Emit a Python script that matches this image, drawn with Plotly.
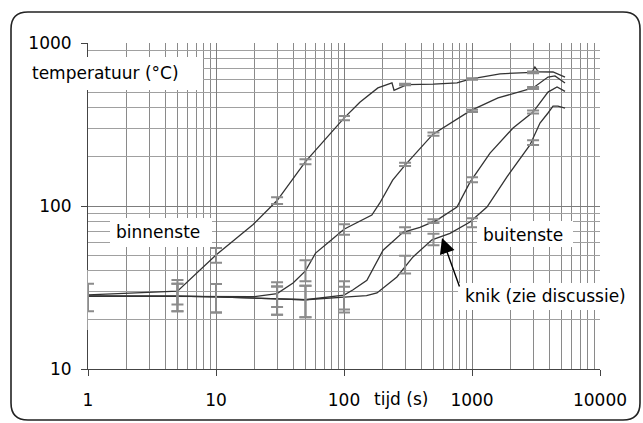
import plotly.graph_objects as go

# ---------------- data ----------------
tA = [1, 5, 10, 19.5, 30, 50, 100, 133, 184, 237, 246, 310, 500, 763, 965, 1655, 2942, 3100, 3300, 4295, 5330]
TA = [28.5, 30, 50, 77, 108, 187, 346, 433, 530, 569, 513, 556, 560, 569, 601, 647, 660, 712, 665, 664, 618]

tB = [1, 5, 10, 20, 30, 40, 50, 60, 80, 100, 165, 190, 240, 300, 496, 965, 1597, 2998, 3925, 4450, 5330]
TB = [28, 28, 27.8, 27.8, 29, 33.7, 40, 51.4, 62, 72, 88, 104, 144, 178, 276, 383, 460, 530, 618, 628, 569]

tC = [1, 5, 10, 20, 30, 50, 100, 117, 151, 202, 289, 392, 533, 763, 965, 1383, 2093, 3000, 3925, 4617, 5330]
TC = [28, 28, 27.7, 27.3, 26.8, 26.6, 28.4, 30.5, 35, 53.6, 69, 74, 82, 98.6, 140, 211, 301, 377, 500, 537, 505]

tD = [1, 5, 10, 20, 30, 50, 100, 150, 181, 259, 346, 487, 673, 965, 1309, 1655, 1876, 2838, 3398, 3925, 4295, 4697, 5330]
TD = [28, 28, 27.7, 27.3, 26.8, 26.6, 27.6, 28.2, 29.3, 36.7, 48.7, 62, 68, 79.7, 98.6, 130, 151, 237, 323, 372, 410, 410, 398]

# error bars (measurement points)
eA_t = [5, 10, 30, 50, 100, 300, 1000, 3000]
eA_T = [30, 50, 108, 187, 346, 556, 601, 660]
eA_e = [5.1, 5.2, 5, 6.5, 10, 6, 6, 8]

eB_t = [30, 50, 100, 300, 500, 1000, 3000]
eB_T = [29, 40.5, 72, 180, 276, 383, 530]
eB_e = [5, 6, 5.3, 4, 6, 6, 8]

eC_t = [5, 10, 30, 50, 100, 300, 500, 1000, 3000]
eC_T = [28, 27.7, 26.8, 26.6, 28.4, 71, 80.8, 145, 378]
eC_e = [5.4, 5.5, 5.3, 5.8, 6.2, 3, 2.2, 5, 8]

eD_t = [1, 5, 10, 30, 50, 100, 300, 500, 1000, 3000]
eD_T = [28, 28, 27.7, 26.8, 26.6, 27.6, 44, 62.5, 79, 245]
eD_e = [5.4, 5.4, 5.5, 5.3, 5.8, 4.4, 5.5, 5, 5, 8]

x_tickvals = [1, 10, 100, 1000, 10000]
x_ticktext = ["1", "10", "100", "1000", "10000"]
y_tickvals = [10, 100, 1000]
y_ticktext = ["10", "100", "1000"]
x_minor = [m * 10 ** d for d in range(0, 4) for m in range(2, 10)]
y_minor = [m * 10 ** d for d in range(1, 3) for m in range(2, 10)]

# ---------------- layout constants ----------------
W, H = 643, 423
L, R, T, B = 88, 43, 43, 54
PW, PH = W - L - R, H - T - B
FONT = "DejaVu Sans"
LINE = "#333333"
ERR = "#8c8c8c"


def px(x):
    return (x - L) / PW


def py(y):
    return (H - B - y) / PH


fig = go.Figure()

for t, v in [(tA, TA), (tB, TB), (tC, TC), (tD, TD)]:
    fig.add_trace(go.Scatter(x=t, y=v, mode="lines",
                             line=dict(color=LINE, width=1.3),
                             showlegend=False, hoverinfo="skip"))

for t, v, e in [(eA_t, eA_T, eA_e), (eB_t, eB_T, eB_e),
                (eC_t, eC_T, eC_e), (eD_t, eD_T, eD_e)]:
    fig.add_trace(go.Scatter(x=t, y=v, mode="markers",
                             marker=dict(size=1, opacity=0),
                             error_y=dict(type="data", array=e, color=ERR,
                                          thickness=2, width=6),
                             showlegend=False, hoverinfo="skip"))

# ---------------- shapes ----------------
def rounded(x0, y0, x1, y1, r):
    pts = [
        ("M", [(x0 + r, y0)]), ("L", [(x1 - r, y0)]), ("Q", [(x1, y0), (x1, y0 + r)]),
        ("L", [(x1, y1 - r)]), ("Q", [(x1, y1), (x1 - r, y1)]),
        ("L", [(x0 + r, y1)]), ("Q", [(x0, y1), (x0, y1 - r)]),
        ("L", [(x0, y0 + r)]), ("Q", [(x0, y0), (x0 + r, y0)]),
    ]
    s = ""
    for cmd, ps in pts:
        s += cmd + " " + " ".join(f"{px(a):.5f},{py(b):.5f}" for a, b in ps) + " "
    return s + "Z"


shapes = [
    dict(type="path", xref="paper", yref="paper", path=rounded(11, 12, 640, 420, 17),
         line=dict(color="#222222", width=1.6), fillcolor="rgba(0,0,0,0)", layer="above"),
    # white strip left of the y axis hiding the partial error bar at t = 1
    dict(type="rect", xref="paper", yref="paper", x0=px(76), x1=px(87.5),
         y0=py(330), y1=py(270), fillcolor="white", line=dict(width=0), layer="above"),
]
# white label boxes
for (x0, y0, x1, y1) in [(28, 57, 203, 90), (110, 218, 212, 247),
                         (477, 221, 573, 247), (458, 283, 632, 310)]:
    shapes.append(dict(type="rect", xref="paper", yref="paper",
                       x0=px(x0), x1=px(x1), y0=py(y1), y1=py(y0),
                       fillcolor="white", line=dict(width=0), layer="above"))

fnt = dict(family=FONT, size=17, color="black")
annotations = [
    dict(text="temperatuur (°C)", xref="paper", yref="paper", x=px(30), y=py(73),
         xanchor="left", yanchor="middle", showarrow=False, font=fnt),
    dict(text="binnenste", xref="paper", yref="paper", x=px(158), y=py(232),
         xanchor="center", yanchor="middle", showarrow=False, font=fnt),
    dict(text="buitenste", xref="paper", yref="paper", x=px(523), y=py(235),
         xanchor="center", yanchor="middle", showarrow=False, font=fnt),
    dict(text="knik (zie discussie)", xref="paper", yref="paper", x=px(463), y=py(296),
         xanchor="left", yanchor="middle", showarrow=False, font=fnt),
    dict(text="tijd (s)", xref="paper", yref="paper", x=px(401), y=py(399),
         xanchor="center", yanchor="middle", showarrow=False, font=fnt),
    dict(text="", xref="paper", yref="paper", x=px(442), y=py(238),
         showarrow=True, ax=18, ay=50, arrowhead=2, arrowsize=2.2,
         arrowwidth=1.4, arrowcolor="black", standoff=0),
]

fig.update_layout(
    width=W, height=H,
    margin=dict(l=L, r=R, t=T, b=B, pad=0),
    paper_bgcolor="white", plot_bgcolor="white",
    font=dict(family=FONT, size=17, color="black"),
    shapes=shapes, annotations=annotations,
    xaxis=dict(type="log", range=[0, 4], tickvals=x_tickvals, ticktext=x_ticktext,
               showgrid=True, gridcolor="#7d7d7d", gridwidth=1,
               minor=dict(tickvals=x_minor, showgrid=True, gridcolor="#8a8a8a",
                          gridwidth=1, ticks=""),
               showline=True, linecolor="#444444", linewidth=1,
               ticks="outside", ticklen=6, tickcolor="#444444",
               ticklabelstandoff=10, zeroline=False),
    yaxis=dict(type="log", range=[1, 3], tickvals=y_tickvals, ticktext=y_ticktext,
               showgrid=True, gridcolor="#7d7d7d", gridwidth=1,
               minor=dict(tickvals=y_minor, showgrid=True, gridcolor="#a0a0a0",
                          gridwidth=1, ticks=""),
               showline=True, linecolor="#444444", linewidth=1,
               ticks="outside", ticklen=6, tickcolor="#444444",
               ticklabelstandoff=6, zeroline=False),
)

fig.write_html("out.html")
